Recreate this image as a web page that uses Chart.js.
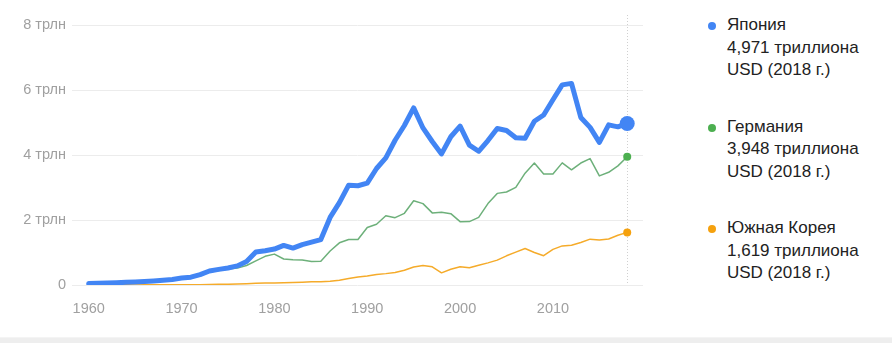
<!DOCTYPE html>
<html>
<head>
<meta charset="utf-8">
<script src="https://cdn.jsdelivr.net/npm/chart.js@4.4.0/dist/chart.umd.min.js"></script>
<style>
  html, body { margin: 0; padding: 0; background: #fff; }
  body { width: 892px; height: 343px; position: relative; overflow: hidden; font-family: "Liberation Sans", Arial, sans-serif; }
  #wrap { position: absolute; left: 0; top: 0; width: 660px; height: 330px; }
  #legend { position: absolute; left: 706px; top: 14px; }
  .item { position: relative; padding-left: 21px; font-size: 17px; line-height: 22.5px; color: #222; margin-bottom: 34px; }
  .dot { position: absolute; left: 2px; top: 8px; width: 8px; height: 8px; border-radius: 50%; }
  #band { position: absolute; left: 0; bottom: 0; width: 892px; height: 5px; background: #eeeeee; border-top: 1px solid #f4f4f4; }
</style>
</head>
<body>
<div id="wrap"><canvas id="c" width="660" height="330"></canvas></div>
<div id="legend"></div>
<div id="band"></div>
<script>
const years = [];
for (let y = 1960; y <= 2018; y++) years.push(y);

const seriesNames = ["Япония", "Германия", "Южная Корея"];
const legendValues = ["4,971 триллиона", "3,948 триллиона", "1,619 триллиона"];
const legendUnit = "USD (2018 г.)";
const xTickYears = [1960, 1970, 1980, 1990, 2000, 2010];
const yTicks = [0, 2, 4, 6, 8];

const japan = [0.044,0.054,0.061,0.069,0.082,0.091,0.106,0.124,0.147,0.172,
  0.213,0.240,0.318,0.432,0.480,0.522,0.587,0.722,1.013,1.055,
  1.105,1.218,1.135,1.243,1.318,1.399,2.079,2.533,3.072,3.054,
  3.133,3.584,3.909,4.454,4.907,5.449,4.833,4.415,4.033,4.562,
  4.888,4.304,4.115,4.445,4.815,4.755,4.530,4.515,5.038,5.231,
  5.700,6.157,6.203,5.156,4.850,4.389,4.927,4.867,4.971];

const germany = [null,null,null,null,null,null,null,null,null,null,
  0.216,0.249,0.300,0.398,0.445,0.489,0.520,0.600,0.741,0.882,
  0.950,0.801,0.777,0.770,0.726,0.733,1.046,1.298,1.401,1.398,
  1.771,1.868,2.131,2.071,2.206,2.592,2.504,2.219,2.239,2.195,
  1.950,1.951,2.079,2.506,2.819,2.861,3.002,3.440,3.753,3.418,
  3.417,3.758,3.544,3.753,3.890,3.358,3.467,3.665,3.948];

const korea = [0.004,0.002,0.003,0.004,0.004,0.003,0.004,0.005,0.006,0.008,
  0.009,0.010,0.011,0.014,0.020,0.022,0.030,0.038,0.052,0.065,
  0.065,0.072,0.078,0.087,0.097,0.101,0.116,0.147,0.197,0.244,
  0.279,0.325,0.350,0.386,0.455,0.556,0.598,0.558,0.374,0.485,
  0.562,0.533,0.609,0.681,0.765,0.898,1.012,1.123,1.002,0.902,
  1.095,1.203,1.223,1.306,1.411,1.383,1.415,1.531,1.619];

const colors = ["#4285f4", "#4caf50", "#f5a10e"];
const lineColors = ["#4285f4", "#6db07a", "#f5ab2a"];
const widths = [5, 1.5, 1.5];
const endRadius = [7.5, 4, 4];
const allSeries = [japan, germany, korea];

const datasets = allSeries.map((vals, i) => ({
  label: seriesNames[i],
  data: vals.map((v, k) => ({ x: years[k], y: v })),
  borderColor: lineColors[i],
  backgroundColor: colors[i],
  borderWidth: widths[i],
  borderCapStyle: 'round',
  borderJoinStyle: 'round',
  tension: 0,
  spanGaps: false,
  pointRadius: ctx => ctx.dataIndex === vals.length - 1 ? endRadius[i] : 0,
  pointBorderWidth: 0,
  pointHoverRadius: 0,
  order: i
}));

const cursorLine = {
  id: 'cursorLine',
  beforeDatasetsDraw(chart) {
    const x = chart.scales.x.getPixelForValue(years[years.length - 1]);
    const c = chart.ctx;
    c.save();
    c.strokeStyle = '#d0d0d0';
    c.lineWidth = 1;
    c.setLineDash([1, 2]);
    c.beginPath();
    c.moveTo(Math.round(x) + 0.5, 15);
    c.lineTo(Math.round(x) + 0.5, chart.chartArea.bottom);
    c.stroke();
    c.restore();
  }
};

new Chart(document.getElementById('c'), {
  type: 'line',
  data: { datasets },
  options: {
    responsive: false,
    animation: false,
    events: [],
    layout: { padding: { top: 25, right: 17, left: 0, bottom: 0 } },
    plugins: { legend: { display: false }, tooltip: { enabled: false } },
    scales: {
      x: {
        type: 'linear',
        min: 1958.2,
        max: 2019.7,
        afterBuildTicks: s => { s.ticks = xTickYears.map(v => ({ value: v })); },
        afterFit: s => { s.height = 45; },
        grid: { display: false },
        border: { display: false },
        ticks: {
          color: '#a0a0a0',
          font: { family: '"Liberation Sans", Arial, sans-serif', size: 14.5 },
          padding: 7,
          maxRotation: 0,
          autoSkip: false,
          callback: v => String(v)
        }
      },
      y: {
        min: 0,
        max: 8,
        afterBuildTicks: s => { s.ticks = yTicks.map(v => ({ value: v })); },
        afterFit: s => { s.width = 72; },
        grid: { color: '#ececec', lineWidth: 1, drawTicks: false },
        border: { display: false },
        ticks: {
          color: '#a0a0a0',
          font: { family: '"Liberation Sans", Arial, sans-serif', size: 14.5 },
          padding: 6,
          callback: v => v === 0 ? '0' : v + ' трлн'
        }
      }
    }
  },
  plugins: [cursorLine]
});

const legend = document.getElementById('legend');
seriesNames.forEach((n, i) => {
  const d = document.createElement('div');
  d.className = 'item';
  d.innerHTML = '<span class="dot" style="background:' + colors[i] + '"></span>' +
    n + '<br>' + legendValues[i] + '<br>' + legendUnit;
  legend.appendChild(d);
});
</script>
</body>
</html>
